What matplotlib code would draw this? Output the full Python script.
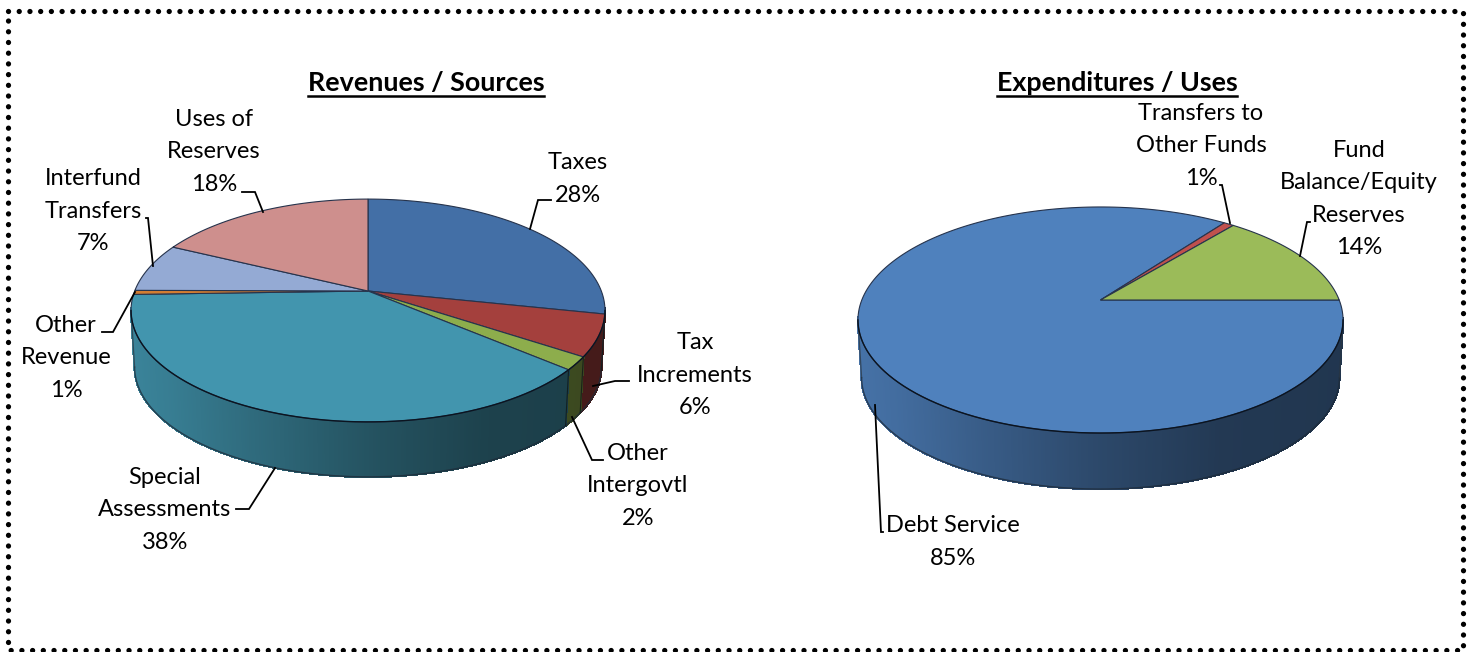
import numpy as np
import matplotlib
matplotlib.use('Agg')
import matplotlib.pyplot as plt
from matplotlib.collections import PolyCollection

plt.rcParams['font.family'] = ['Lato', 'DejaVu Sans']

# data
rev_names = ['Taxes', 'Tax\nIncrements', 'Other\nIntergovtl', 'Special\nAssessments',
             'Other\nRevenue', 'Interfund\nTransfers', 'Uses of\nReserves']
rev_values = [28.3, 6.0, 1.9, 38.3, 0.6, 7.1, 17.8]
rev_colors = ['#436fa6', '#a4403d', '#8dad4c', '#4295ae', '#d27d32', '#94aad4', '#ce8f8d']

exp_names = ['Debt Service', 'Transfers to\nOther Funds', 'Fund\nBalance/Equity\nReserves']
exp_values = [85.1, 0.8, 14.1]
exp_colors = ['#4f81bd', '#c0504d', '#9bbb59']

# label centres in picture pixels
rev_label_pos = [(578, 179), (695, 375), (638, 486), (165, 510), (66, 358), (93, 211), (214, 152)]
exp_label_pos = [(953, 542), (1201, 146), (1359, 199)]

rev_leaders = [[(530, 229), (538, 200), (551, 200)],
               [(593, 386), (615, 381), (629, 381)],
               [(572, 417), (592, 460), (603, 460)],
               [(275, 468), (249, 509), (236, 509)],
               [(135, 292), (113, 332), (102, 332)],
               [(153, 266), (148, 218), (146, 218)],
               [(263, 212), (255, 192), (242, 192)]]
exp_leaders = [[(875, 405), (881, 532), (883, 532)],
               [(1230, 223), (1222, 185), (1220, 185)],
               [(1300, 256), (1307, 222), (1310, 222)]]

# x positions across the pie vs how dark the side wall gets
shade_x = [0.0, 0.08, 0.25, 0.5, 0.75, 1.0]
shade_f = [0.88, 0.84, 0.72, 0.56, 0.44, 0.42]


def project(theta, geo):
    # tilted circle with a bit of perspective, theta clockwise from the back
    cx, cy, R, a, p = geo
    w = 1 + p * np.cos(theta)
    return R * np.sin(theta) / w, -a * np.cos(theta) / w


def draw_pie(ax, values, colors, start, geo, depth):
    cx, cy, R, a, p = geo
    total = sum(values)
    edges = np.deg2rad(start) + 2 * np.pi * np.cumsum([0] + values) / total
    width = 2 * R / np.sqrt(1 - p * p)
    s = 0.985

    # side wall first, the top covers the rest
    quads, quad_colors = [], []
    for i in range(len(values)):
        n = max(int((edges[i + 1] - edges[i]) * 120), 2)
        th = np.linspace(edges[i], edges[i + 1], n + 1)
        x, y = project(th, geo)
        base = np.array(matplotlib.colors.to_rgb(colors[i]))
        for j in range(n):
            mid = (th[j] + th[j + 1]) / 2
            if np.cos(mid) > -p + 0.02:
                continue
            quad = [(cx + x[j], cy + y[j]), (cx + x[j + 1], cy + y[j + 1]),
                    (cx + s * x[j + 1], cy + depth + s * y[j + 1]),
                    (cx + s * x[j], cy + depth + s * y[j])]
            frac = (x[j] + width / 2) / width
            quads.append(quad)
            quad_colors.append(base * np.interp(frac, shade_x, shade_f))
    # no antialiasing or the thin quads leave stripes
    ax.add_collection(PolyCollection(quads, facecolors=quad_colors, edgecolors=quad_colors,
                                     linewidths=1.0, antialiaseds=False, zorder=2))

    # near half of the rim
    t0 = np.arccos(-p)
    th = np.linspace(t0, 2 * np.pi - t0, 400)
    x, y = project(th, geo)
    ax.plot(cx + s * x, cy + depth + s * y, color='#1d2a38', lw=1.0, alpha=0.75, zorder=3)
    for k in [0, -1]:
        ax.plot([cx + x[k], cx + s * x[k]], [cy + y[k], cy + depth + s * y[k]],
                color='#2a3540', lw=0.9, alpha=0.7, zorder=3)

    # slice borders down the wall
    for e in edges:
        if np.cos(e) < -p:
            xe, ye = project(e, geo)
            ax.plot([cx + xe, cx + s * xe], [cy + ye, cy + depth + s * ye],
                    color='#101818', lw=0.8, alpha=0.8, zorder=3)

    # top face
    for i in range(len(values)):
        th2 = np.linspace(edges[i], edges[i + 1], 200)
        xt, yt = project(th2, geo)
        ax.fill(np.r_[cx, cx + xt], np.r_[cy, cy + yt], facecolor=colors[i],
                edgecolor='#26334c', lw=0.8, zorder=4)

    # dark line where the top meets the wall
    ax.plot(cx + x, cy + y, color='#0b1420', lw=1.0, zorder=5)


def draw_labels(ax, names, values, positions, leaders):
    for name, val, pos, leader in zip(names, values, positions, leaders):
        ax.text(pos[0], pos[1], f'{name}\n{val:.0f}%', ha='center', va='center',
                fontsize=LABEL_SIZE, color='black', linespacing=LINE_SP, zorder=7)
        ax.plot([q[0] for q in leader], [q[1] for q in leader], color='black', lw=1.3,
                solid_joinstyle='miter', zorder=6)


def title(ax, fig, txt, x, y):
    t = ax.text(x, y, txt, ha='center', va='center', fontsize=TITLE_SIZE, fontweight='bold', zorder=7)
    bb = t.get_window_extent(fig.canvas.get_renderer())
    ax.plot([bb.x0, bb.x1], [96, 96], color='black', lw=1.8, zorder=7)


LABEL_SIZE = 17
TITLE_SIZE = 19.4
LINE_SP = 1.68

fig = plt.figure(figsize=(14.75, 6.52), dpi=100)
ax = fig.add_axes([0, 0, 1, 1])
ax.set_xlim(0, 1475)
ax.set_ylim(652, 0)
ax.axis('off')

# dotted frame
ax.plot([8, 1463, 1463, 8, 8], [11, 11, 650, 650, 11], color='black', lw=3.8,
        linestyle=(0, (0.01, 2.02)), dash_capstyle='round', clip_on=False, zorder=1)

draw_pie(ax, rev_values, rev_colors, 0, (368, 291, 233.3, 108, 0.175), 56.9)
draw_pie(ax, exp_values, exp_colors, 90, (1100.5, 300, 238.7, 109.5, 0.177), 58)

draw_labels(ax, rev_names, rev_values, rev_label_pos, rev_leaders)
draw_labels(ax, exp_names, exp_values, exp_label_pos, exp_leaders)

title(ax, fig, 'Revenues / Sources', 426, 83)
title(ax, fig, 'Expenditures / Uses', 1117, 83)

fig.savefig('out.png', dpi=100)
